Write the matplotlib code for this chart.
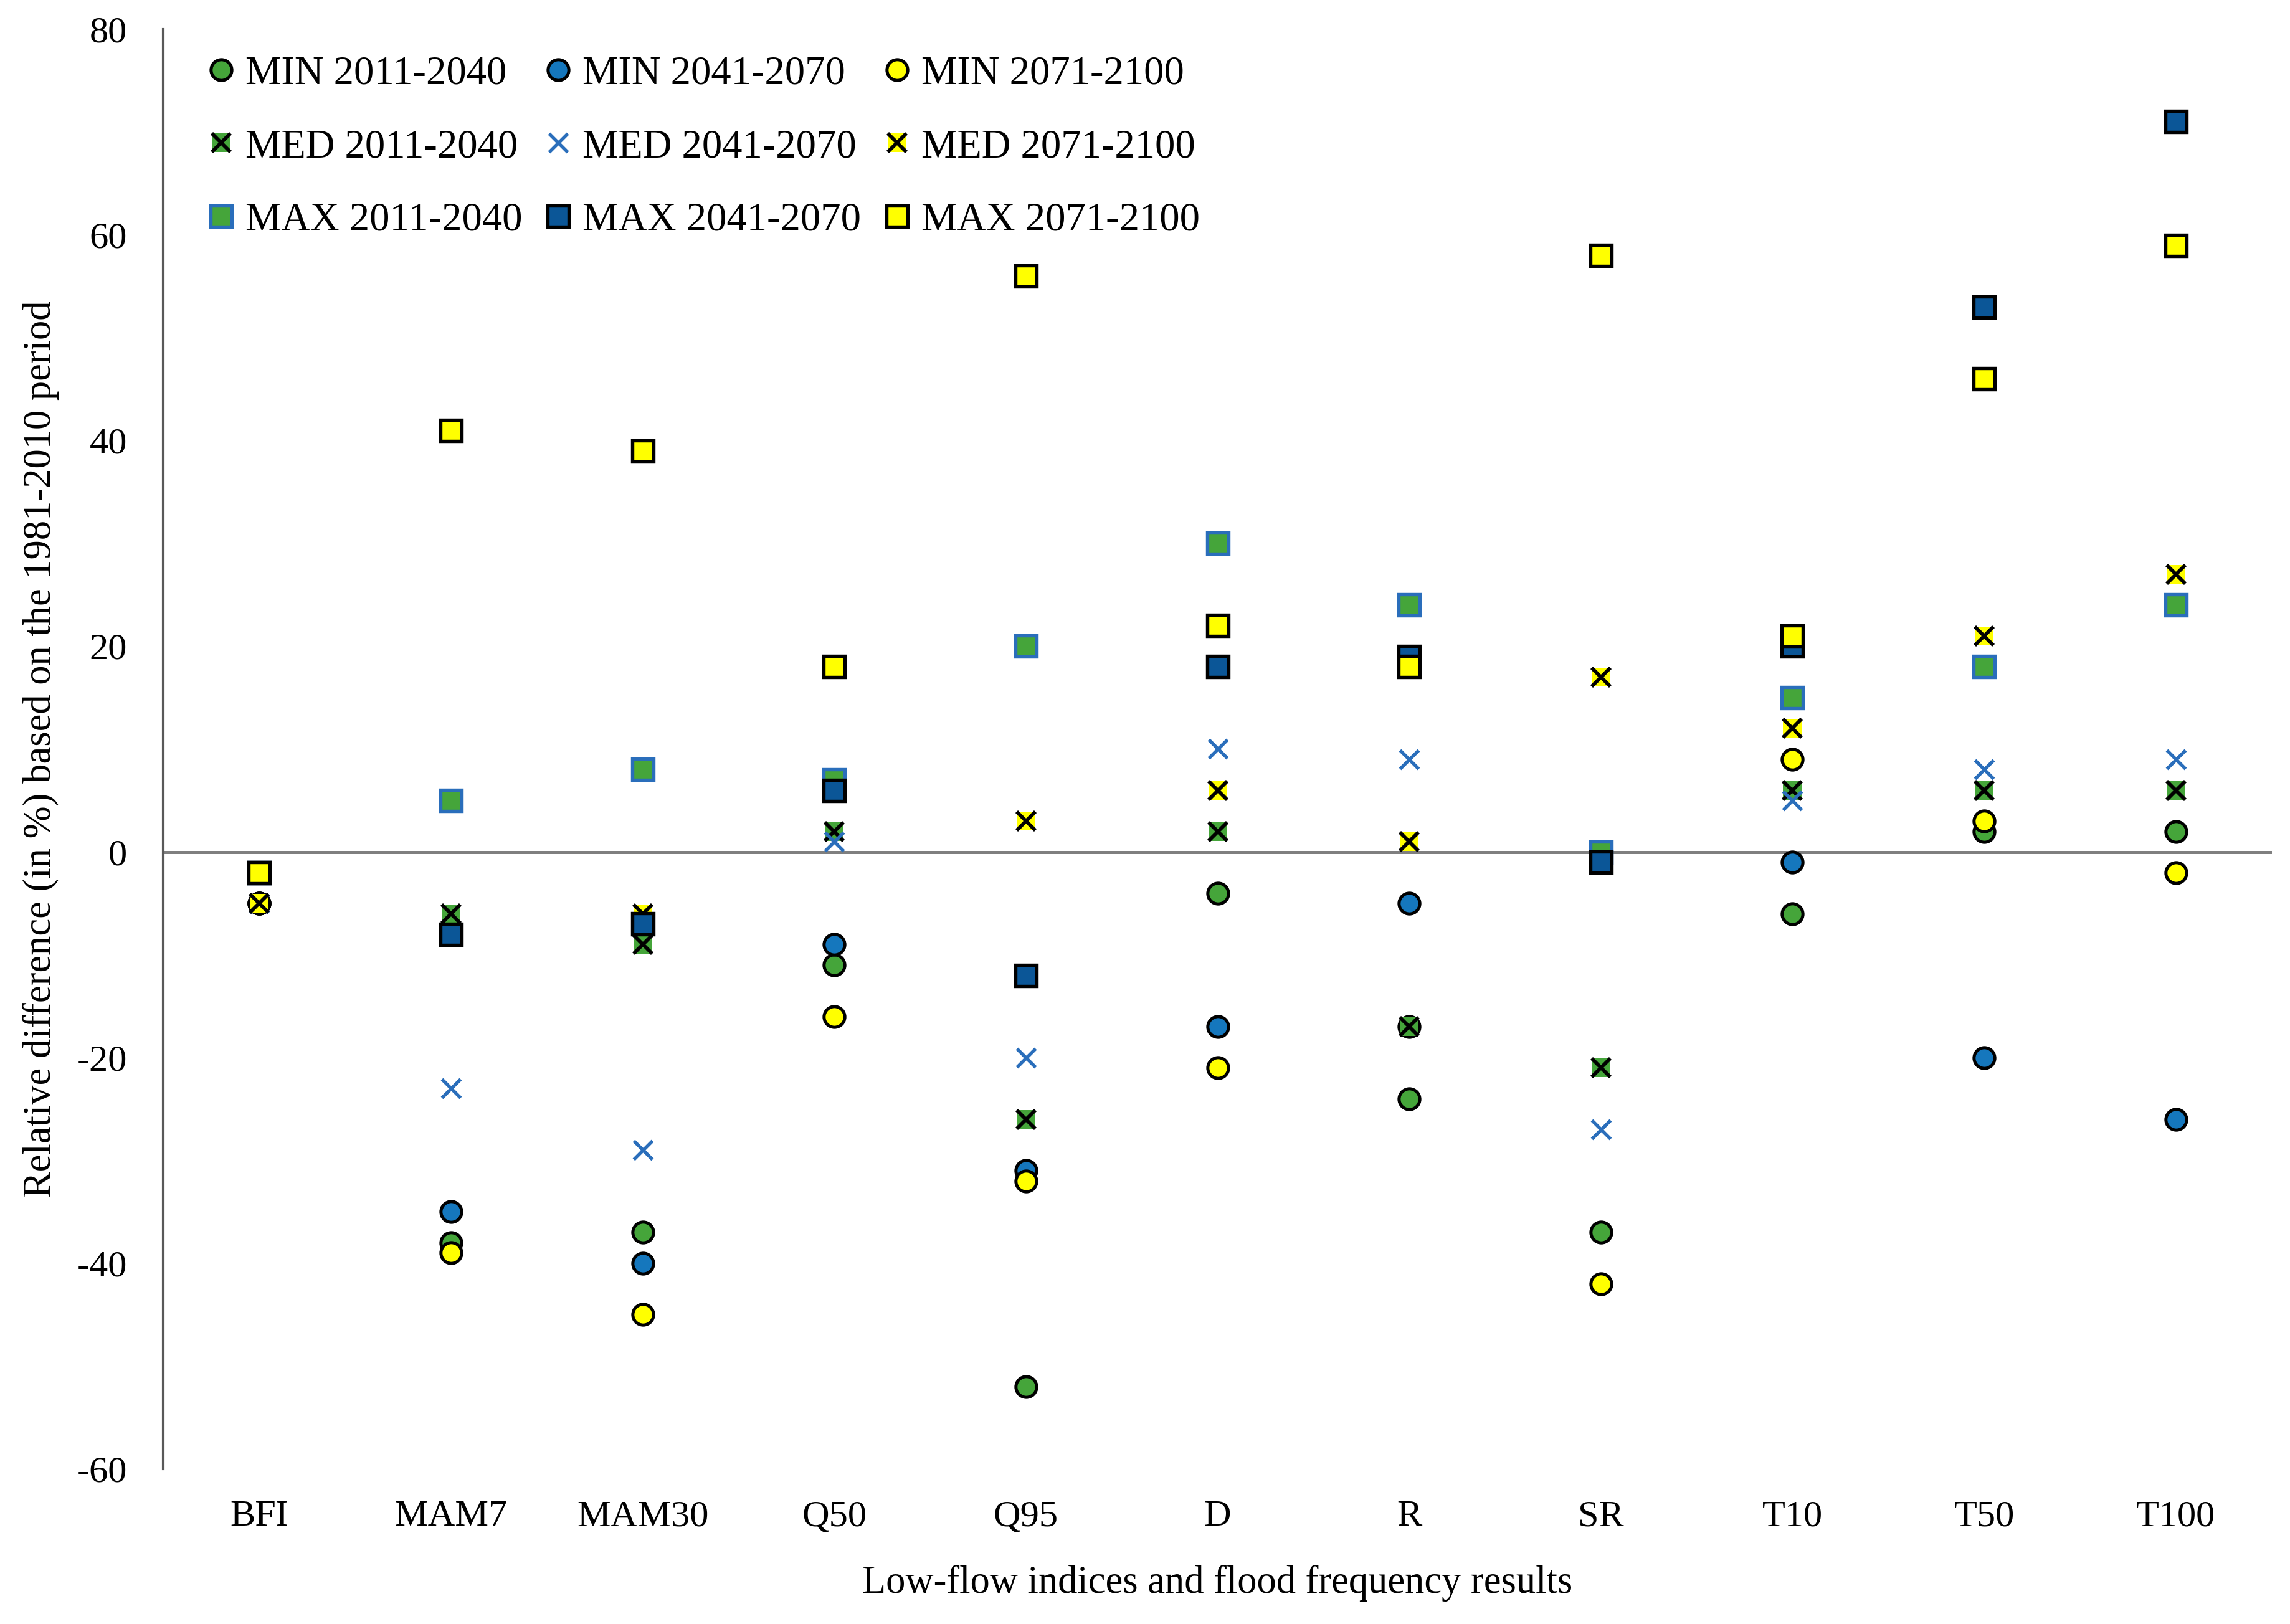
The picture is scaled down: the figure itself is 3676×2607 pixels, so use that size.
import matplotlib
matplotlib.use("Agg")
import matplotlib.pyplot as plt
from matplotlib.legend_handler import HandlerTuple

plt.rcParams['font.family'] = ['Liberation Serif', 'DejaVu Serif']
plt.rcParams['axes.unicode_minus'] = False

categories = ['BFI', 'MAM7', 'MAM30', 'Q50', 'Q95', 'D', 'R', 'SR', 'T10', 'T50', 'T100']

min_2011 = [-5, -38, -37, -11, -52, -4, -24, -37, -6, 2, 2]
min_2041 = [-5, -35, -40, -9, -31, -17, -5, -1, -1, -20, -26]
min_2071 = [-5, -39, -45, -16, -32, -21, -17, -42, 9, 3, -2]
med_2011 = [-5, -6, -9, 2, -26, 2, -17, -21, 6, 6, 6]
med_2041 = [-5, -23, -29, 1, -20, 10, 9, -27, 5, 8, 9]
med_2071 = [-5, -8, -6, 6, 3, 6, 1, 17, 12, 21, 27]
max_2011 = [-2, 5, 8, 7, 20, 30, 24, 0, 15, 18, 24]
max_2041 = [-2, -8, -7, 6, -12, 18, 19, -1, 20, 53, 71]
max_2071 = [-2, 41, 39, 18, 56, 22, 18, 58, 21, 46, 59]

green = '#45A53A'
blue = '#1577BD'
dark_blue = '#0B5697'
x_blue = '#2A6EBB'
yellow = '#FFFF00'

fig = plt.figure(figsize=(3676 / 300, 2607 / 300), dpi=300)
ax = fig.add_axes([0.0714, 0.0955, 0.9206, 0.8865])

x = list(range(len(categories)))
ms = 8
fs = 14.5

# MIN series: circles
h_min11, = ax.plot(x, min_2011, 'o', ms=ms, mfc=green, mec='black', mew=1.2, ls='none')
h_min41, = ax.plot(x, min_2041, 'o', ms=ms, mfc=blue, mec='black', mew=1.2, ls='none')
h_min71, = ax.plot(x, min_2071, 'o', ms=ms, mfc=yellow, mec='black', mew=1.2, ls='none')

# MED series: x markers (filled background for two of them)
bg11, = ax.plot(x, med_2011, 's', ms=ms - 1, mfc=green, mec='none', ls='none')
fx11, = ax.plot(x, med_2011, 'x', ms=ms - 1, color='black', mew=1.4, ls='none')
h_med41, = ax.plot(x, med_2041, 'x', ms=ms - 1, color=x_blue, mew=1.3, ls='none')
bg71, = ax.plot(x, med_2071, 's', ms=ms - 1, mfc=yellow, mec='none', ls='none')
fx71, = ax.plot(x, med_2071, 'x', ms=ms - 1, color='black', mew=1.4, ls='none')

# MAX series: squares
h_max11, = ax.plot(x, max_2011, 's', ms=ms, mfc=green, mec=x_blue, mew=1.3, ls='none')
h_max41, = ax.plot(x, max_2041, 's', ms=ms, mfc=dark_blue, mec='black', mew=1.3, ls='none')
h_max71, = ax.plot(x, max_2071, 's', ms=ms, mfc=yellow, mec='black', mew=1.3, ls='none')

ax.axhline(0, color='#7f7f7f', lw=1.2, zorder=0)

ax.set_xlim(-0.5, len(categories) - 0.5)
ax.set_ylim(-60, 80)
ax.set_yticks(range(-60, 81, 20))
ax.set_xticks(x)
ax.set_xticklabels(categories)
ax.tick_params(axis='both', length=0, labelsize=fs)
ax.tick_params(axis='y', pad=14)
ax.tick_params(axis='x', pad=12)

for s in ['top', 'right', 'bottom']:
    ax.spines[s].set_visible(False)
ax.spines['left'].set_color('#595959')
ax.spines['left'].set_linewidth(1.0)

ax.set_ylabel('Relative difference (in %) based on the 1981-2010 period', fontsize=15, labelpad=7)
ax.set_xlabel('Low-flow indices and flood frequency results', fontsize=15, labelpad=12)

handles = [h_min11, (bg11, fx11), h_max11,
           h_min41, h_med41, h_max41,
           h_min71, (bg71, fx71), h_max71]
labels = ['MIN 2011-2040', 'MED 2011-2040', 'MAX 2011-2040',
          'MIN 2041-2070', 'MED 2041-2070', 'MAX 2041-2070',
          'MIN 2071-2100', 'MED 2071-2100', 'MAX 2071-2100']
ax.legend(handles, labels, ncol=3, loc='upper left', bbox_to_anchor=(0.014, 0.993),
          frameon=False, fontsize=15.5, handlelength=0.6, handletextpad=0.3,
          columnspacing=0.6, labelspacing=0.9, borderaxespad=0,
          handler_map={tuple: HandlerTuple(ndivide=1, pad=0)})

fig.savefig('out.png', dpi=300)
